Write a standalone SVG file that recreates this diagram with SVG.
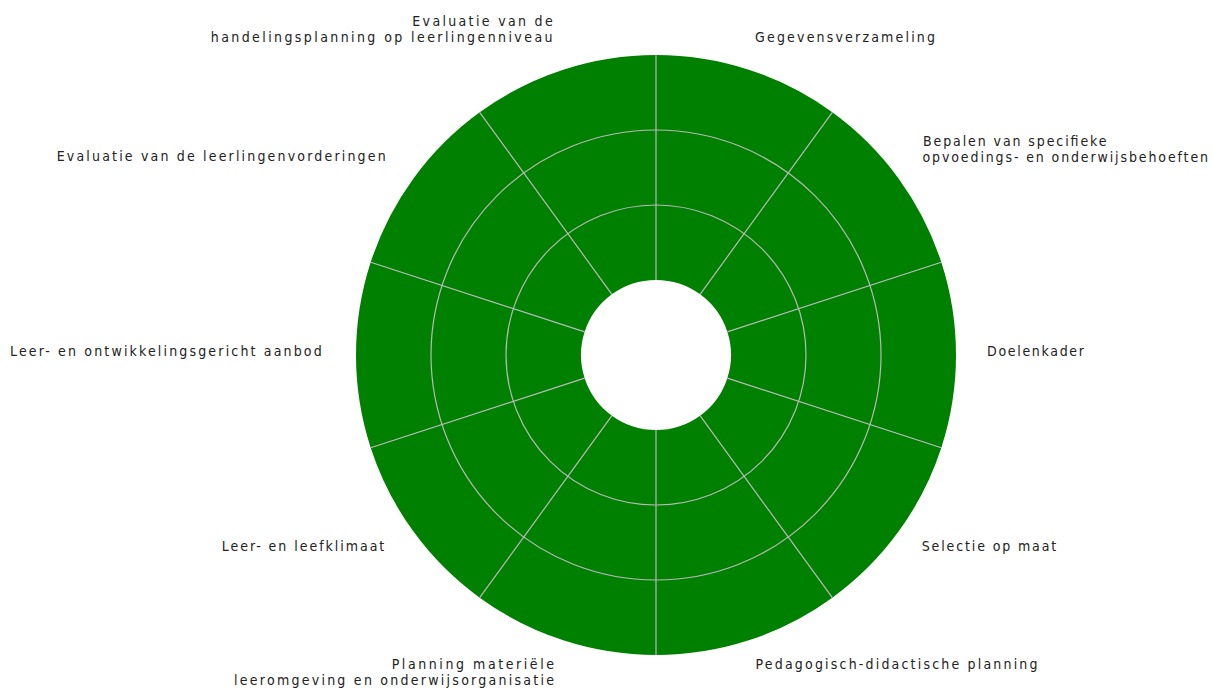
<svg xmlns="http://www.w3.org/2000/svg" width="1213" height="691" viewBox="0 0 1213 691">
<style>
.sec{fill:#008000;stroke:none}
.grid{fill:none;stroke:#b8b8b8;stroke-width:1.2}
.lbl{font-family:"DejaVu Sans Condensed","DejaVu Sans",sans-serif;font-size:14px;fill:#222}
.end{text-anchor:end}
</style>
<rect width="1213" height="691" fill="#ffffff"/>
<g id="sector-gegevensverzameling">
<path class="sec" d="M656,55 A300,300 0 0 1 832.34,112.29 L700.08,294.32 A75,75 0 0 0 656,280 Z"/>
<text class="lbl" x="755" y="42" textLength="180" lengthAdjust="spacing">Gegevensverzameling</text>
</g>
<g id="sector-bepalen">
<path class="sec" d="M832.34,112.29 A300,300 0 0 1 941.32,262.29 L727.33,331.82 A75,75 0 0 0 700.08,294.32 Z"/>
<text class="lbl" x="923" y="145.5" textLength="183.5" lengthAdjust="spacing">Bepalen van specifieke</text>
<text class="lbl" x="922.5" y="161.5" textLength="285.5" lengthAdjust="spacing">opvoedings- en onderwijsbehoeften</text>
</g>
<g id="sector-doelenkader">
<path class="sec" d="M941.32,262.29 A300,300 0 0 1 941.32,447.71 L727.33,378.18 A75,75 0 0 0 727.33,331.82 Z"/>
<text class="lbl" x="987" y="356" textLength="97" lengthAdjust="spacing">Doelenkader</text>
</g>
<g id="sector-selectie">
<path class="sec" d="M941.32,447.71 A300,300 0 0 1 832.34,597.71 L700.08,415.68 A75,75 0 0 0 727.33,378.18 Z"/>
<text class="lbl" x="921.7" y="551" textLength="134.5" lengthAdjust="spacing">Selectie op maat</text>
</g>
<g id="sector-pedagogisch">
<path class="sec" d="M832.34,597.71 A300,300 0 0 1 656,655 L656,430 A75,75 0 0 0 700.08,415.68 Z"/>
<text class="lbl" x="755.5" y="669" textLength="282" lengthAdjust="spacing">Pedagogisch-didactische planning</text>
</g>
<g id="sector-planning">
<path class="sec" d="M656,655 A300,300 0 0 1 479.66,597.71 L611.92,415.68 A75,75 0 0 0 656,430 Z"/>
<text class="lbl end" x="554" y="669" textLength="162.3" lengthAdjust="spacing">Planning materiële</text>
<text class="lbl end" x="554" y="685" textLength="320" lengthAdjust="spacing">leeromgeving en onderwijsorganisatie</text>
</g>
<g id="sector-klimaat">
<path class="sec" d="M479.66,597.71 A300,300 0 0 1 370.68,447.71 L584.67,378.18 A75,75 0 0 0 611.92,415.68 Z"/>
<text class="lbl end" x="384.3" y="551" textLength="162.6" lengthAdjust="spacing">Leer- en leefklimaat</text>
</g>
<g id="sector-aanbod">
<path class="sec" d="M370.68,447.71 A300,300 0 0 1 370.68,262.29 L584.67,331.82 A75,75 0 0 0 584.67,378.18 Z"/>
<text class="lbl" x="10" y="356" textLength="311.7" lengthAdjust="spacing">Leer- en ontwikkelingsgericht aanbod</text>
</g>
<g id="sector-evaluatie-vorderingen">
<path class="sec" d="M370.68,262.29 A300,300 0 0 1 479.66,112.29 L611.92,294.32 A75,75 0 0 0 584.67,331.82 Z"/>
<text class="lbl" x="56.7" y="161" textLength="329" lengthAdjust="spacing">Evaluatie van de leerlingenvorderingen</text>
</g>
<g id="sector-evaluatie-handelingsplanning">
<path class="sec" d="M479.66,112.29 A300,300 0 0 1 656,55 L656,280 A75,75 0 0 0 611.92,294.32 Z"/>
<text class="lbl end" x="552.7" y="26" textLength="140.4" lengthAdjust="spacing">Evaluatie van de</text>
<text class="lbl end" x="552.5" y="42" textLength="341.7" lengthAdjust="spacing">handelingsplanning op leerlingenniveau</text>
</g>
<g id="connectors">
<circle class="grid" cx="656" cy="355" r="150"/>
<circle class="grid" cx="656" cy="355" r="225"/>
<path class="grid" d="M656,280 L656,55 M700.08,294.32 L832.34,112.29 M727.33,331.82 L941.32,262.29 M727.33,378.18 L941.32,447.71 M700.08,415.68 L832.34,597.71 M656,430 L656,655 M611.92,415.68 L479.66,597.71 M584.67,378.18 L370.68,447.71 M584.67,331.82 L370.68,262.29 M611.92,294.32 L479.66,112.29"/>
</g>
</svg>
